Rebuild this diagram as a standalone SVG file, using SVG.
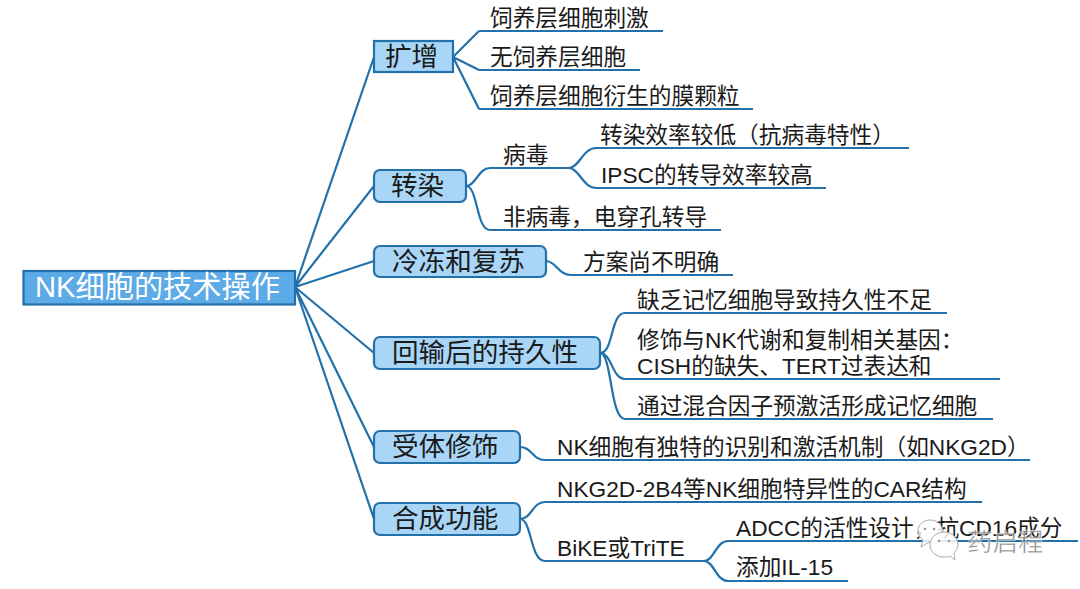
<svg xmlns="http://www.w3.org/2000/svg" width="1080" height="589" viewBox="0 0 1080 589">
<style>
text{font-family:"Liberation Sans","Noto Sans CJK SC",sans-serif;fill:#1a1a1a}
.leaf{font-size:22.7px}
.main{font-size:26.6px}
.box{fill:#a9d6f7;stroke:#2271ab;stroke-width:2.2}
.ln{fill:none;stroke:#2271ab;stroke-width:2.2}
</style>
<rect width="1080" height="589" fill="#fff"/>
<g id="connectors" class="ln">
<path d="M295 287L374 57M295 287L374 186M295 287L374 261M295 287L374 353M295 287L374 447M295 287L374 519"/>
<path d="M453 57L479 31M453 57L479 70M453 57L479 109"/>
<path d="M466 186C476 186 478 168 490 168M466 186C478 186 476 230 490 230"/>
<path d="M569 168C579 168 583 148 596 148M569 168C579 168 583 188 596 188"/>
<path d="M546 261C556 261 558 275 571 275"/>
<path d="M600 353C614 353 610 313 625 313M600 353C612 353 612 379 625 379M600 353C612 353 610 419 625 419"/>
<path d="M520 447C532 447 532 460 545 460"/>
<path d="M520 519C532 519 532 502 545 502M520 519C532 519 530 561 545 561"/>
<path d="M704 561C714 561 716 541 728 541M704 561C714 561 716 581 728 581"/>
</g>
<g id="root"><rect x="23.500" y="271" width="271.500" height="33.500" fill="#5caae6" stroke="#2271ab" stroke-width="2.200"/><text x="35" y="297" font-size="29.200" style="fill:#fff">NK细胞的技术操作</text></g>
<g id="n-expand"><rect class="box" x="374" y="41" width="79" height="31"/><text class="main" x="385" y="66">扩增</text></g>
<g id="n-transfect"><rect class="box" x="374" y="170" width="92" height="32" rx="6"/><text class="main" x="391" y="195">转染</text></g>
<g id="n-freeze"><rect class="box" x="374" y="246" width="172" height="31" rx="6"/><text class="main" x="392" y="271">冷冻和复苏</text></g>
<g id="n-persist"><rect class="box" x="374" y="337" width="226" height="32" rx="6"/><text class="main" x="392" y="362">回输后的持久性</text></g>
<g id="n-receptor"><rect class="box" x="374" y="431" width="146" height="32" rx="6"/><text class="main" x="392" y="456">受体修饰</text></g>
<g id="n-synth"><rect class="box" x="374" y="503" width="146" height="32" rx="6"/><text class="main" x="392" y="528">合成功能</text></g>
<g id="l1" class="leaf"><path class="ln" d="M479 31H663"/><text x="490" y="26">饲养层细胞刺激</text></g>
<g id="l2" class="leaf"><path class="ln" d="M479 70H640"/><text x="490" y="65">无饲养层细胞</text></g>
<g id="l3" class="leaf"><path class="ln" d="M479 109H753"/><text x="490" y="104">饲养层细胞衍生的膜颗粒</text></g>
<g id="l4" class="leaf"><path class="ln" d="M490 168H569"/><text x="503" y="163">病毒</text></g>
<g id="l5" class="leaf"><path class="ln" d="M596 148H909"/><text x="600" y="143">转染效率较低（抗病毒特性）</text></g>
<g id="l6" class="leaf"><path class="ln" d="M596 188H826"/><text x="601" y="183">IPSC的转导效率较高</text></g>
<g id="l7" class="leaf"><path class="ln" d="M490 230H721"/><text x="503" y="225">非病毒，电穿孔转导</text></g>
<g id="l8" class="leaf"><path class="ln" d="M571 275H733"/><text x="583" y="270">方案尚不明确</text></g>
<g id="l9" class="leaf"><path class="ln" d="M625 313H947"/><text x="637" y="308">缺乏记忆细胞导致持久性不足</text></g>
<g id="l10" class="leaf"><path class="ln" d="M625 379H1000"/><text x="637" y="348">修饰与NK代谢和复制相关基因：</text><text x="637" y="374">CISH的缺失、TERT过表达和</text></g>
<g id="l11" class="leaf"><path class="ln" d="M625 419H993"/><text x="637" y="414">通过混合因子预激活形成记忆细胞</text></g>
<g id="l12" class="leaf"><path class="ln" d="M545 460H1030"/><text x="557" y="455">NK细胞有独特的识别和激活机制（如NKG2D）</text></g>
<g id="l13" class="leaf"><path class="ln" d="M545 502H982"/><text x="557" y="497">NKG2D-2B4等NK细胞特异性的CAR结构</text></g>
<g id="l14" class="leaf"><path class="ln" d="M545 561H704"/><text x="557" y="556">BiKE或TriTE</text></g>
<g id="l15" class="leaf"><path class="ln" d="M728 541H1078"/><text x="736" y="536">ADCC的活性设计，抗CD16成分</text></g>
<g id="l16" class="leaf"><path class="ln" d="M728 581H848"/><text x="736" y="575">添加IL-15</text></g>
<g id="watermark">
<path d="M930 520C923 520 918 525 918 531C918 535 920 538 923 540L921 547L929 542C931 543 933 543 935 543C941 543 944 537 943 531C942 525 937 520 930 520Z" fill="#fff" fill-opacity=".85" stroke="#aaa" stroke-width="1"/>
<path d="M944 532C936 532 930 538 930 545C930 552 936 557 944 557C946 557 948 557 950 556L955 560L954 553C956 551 958 548 958 545C958 538 952 532 944 532Z" fill="#fff" fill-opacity=".85" stroke="#aaa" stroke-width="1"/>
<circle cx="925" cy="529" r="1.300" fill="#999"/><circle cx="934" cy="529" r="1.300" fill="#999"/><circle cx="939" cy="541" r="1.300" fill="#999"/><circle cx="949" cy="541" r="1.300" fill="#999"/>
<text x="967" y="551" font-size="25.500" style="fill:#777;fill-opacity:.85;stroke:#fff;stroke-width:.6;stroke-opacity:.8">药启程</text>
</g>
</svg>
